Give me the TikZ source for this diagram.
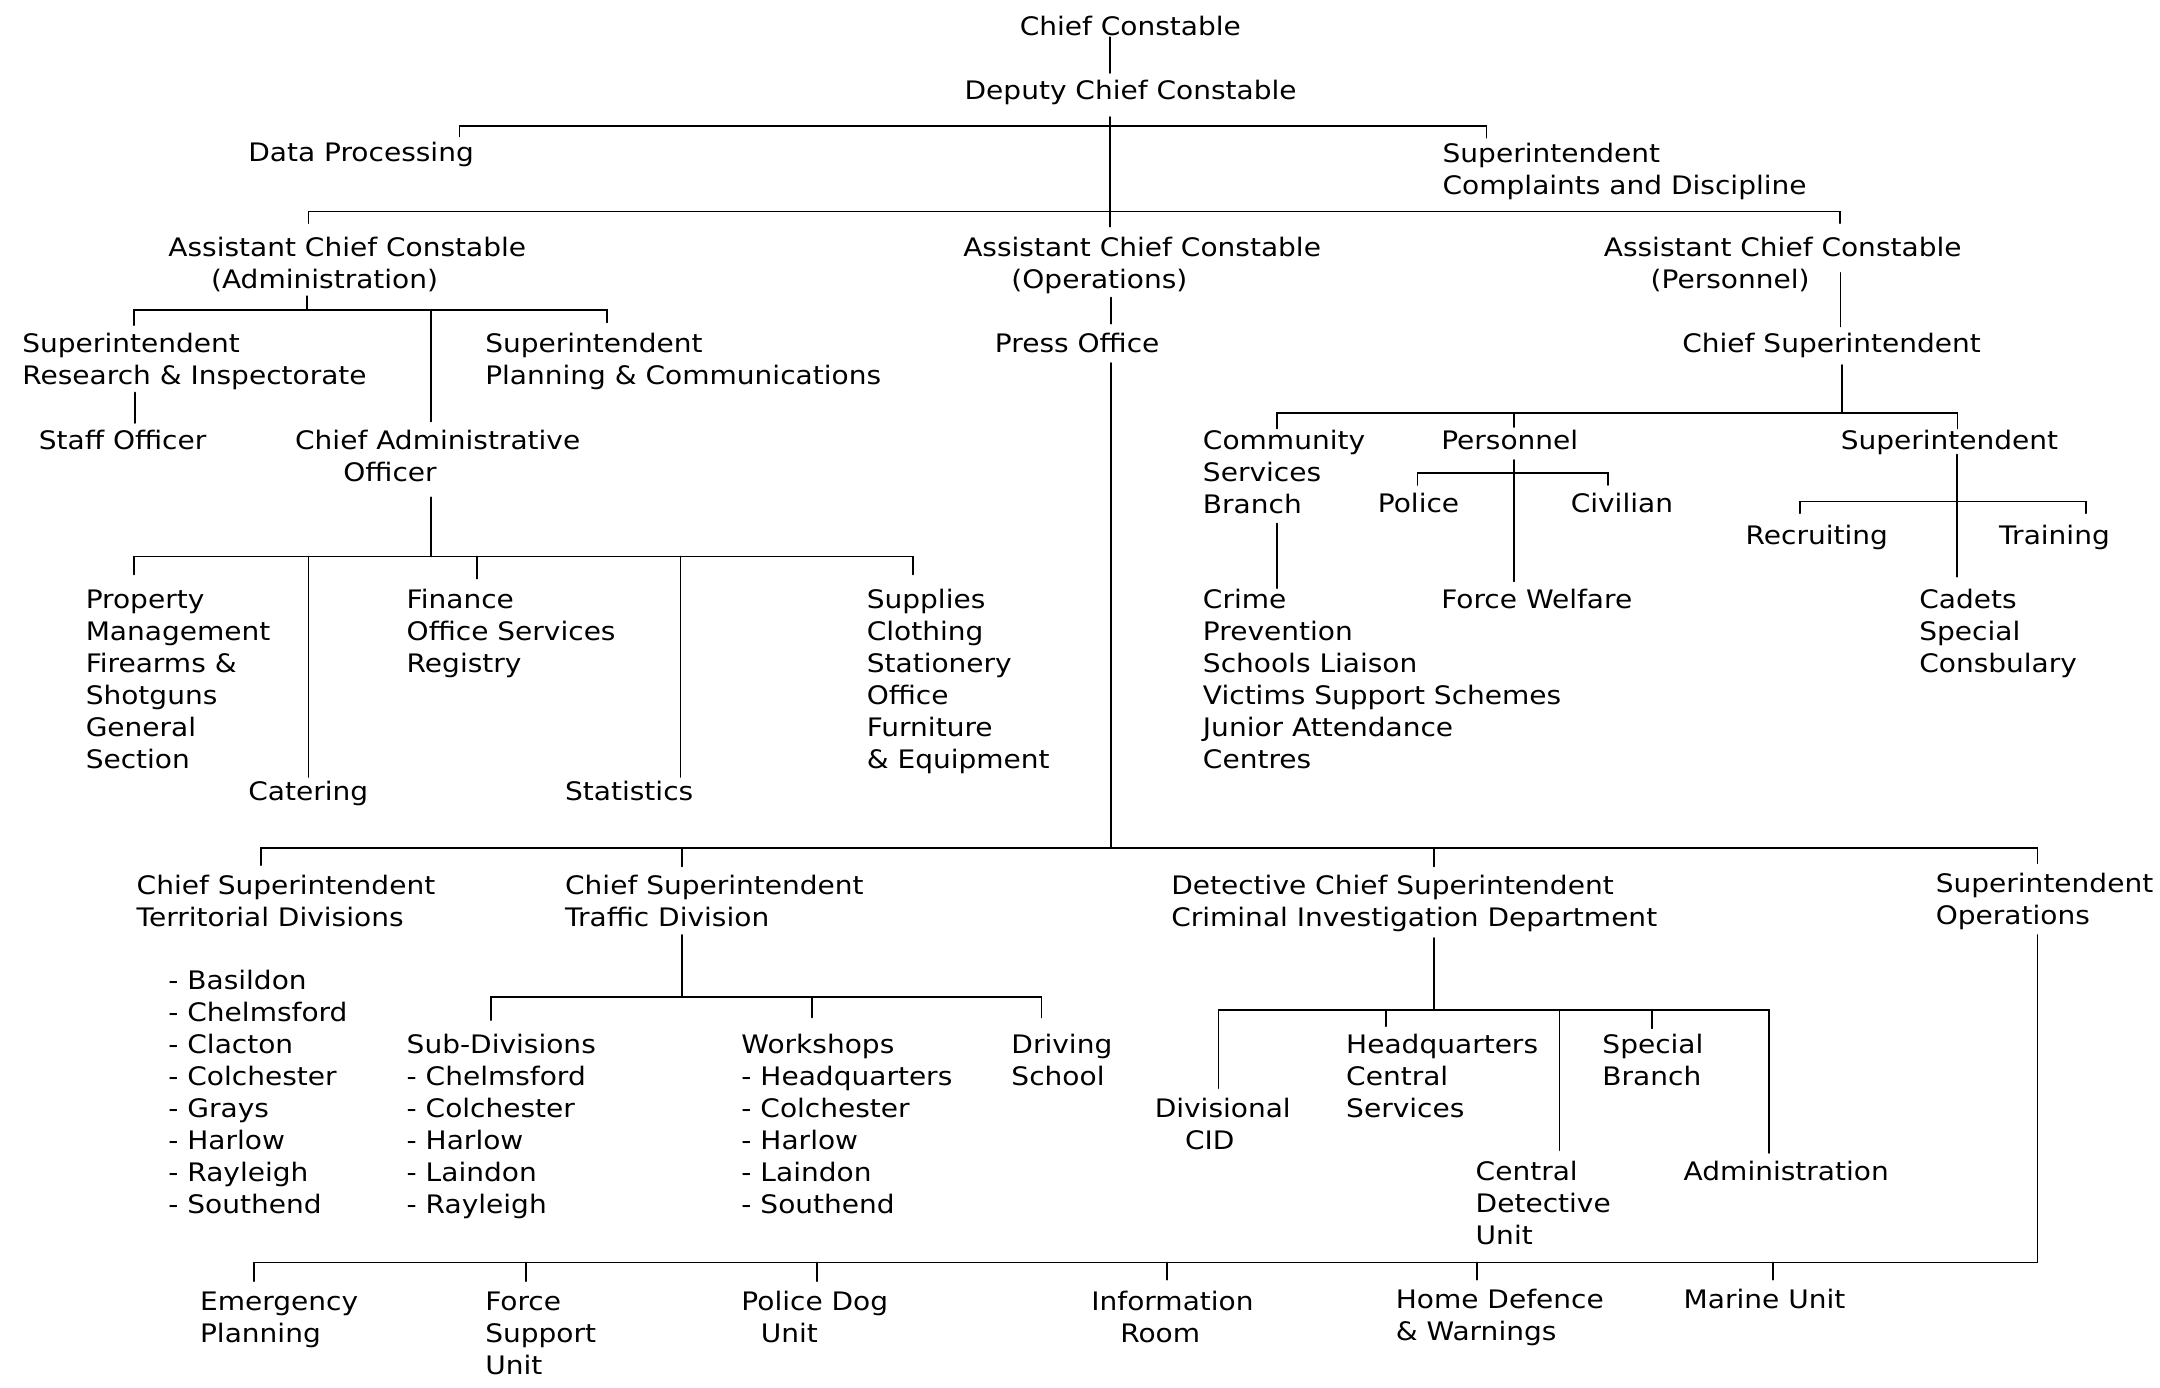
\documentclass[tikz,border=0pt]{standalone}
\usepackage{fontspec}
\newfontfamily\tf{DejaVu Sans}[FakeStretch=1.1]
\newlength\myu
\setlength\myu{0.02755cm}
\def\ls{23.22}
\begin{document}
\begin{tikzpicture}[x=0.02755cm,y=-0.02755cm,
  lbl/.style={anchor=base west,inner sep=0pt,align=left,font=\tf\fontsize{14.5pt}{18.2pt}\selectfont},
  conn/.style={line width=1pt,line cap=round,line join=miter}]
\useasboundingbox[fill=white] (0,0) rectangle (1568,1007);
% ---------- text (y = baseline of the last line) ----------
\node[lbl] (cc) at (740,26) {Chief Constable};
\node[lbl] (dcc) at (700,72) {Deputy Chief Constable};
\node[lbl] (dp) at (180,117) {Data Processing};
\node[lbl] (scd) at (1047,{118+\ls}) {Superintendent\\Complaints and Discipline};
\node[lbl] (acca) at (122,{186+\ls}) {Assistant Chief Constable\\\hspace*{31\myu}(Administration)};
\node[lbl] (acco) at (699,{186+\ls}) {Assistant Chief Constable\\\hspace*{35\myu}(Operations)};
\node[lbl] (accp) at (1164,{186+\ls}) {Assistant Chief Constable\\\hspace*{34\myu}(Personnel)};
\node[lbl] (sri) at (16,{256+\ls}) {Superintendent\\Research \& Inspectorate};
\node[lbl] (spc) at (352,{256+\ls}) {Superintendent\\Planning \& Communications};
\node[lbl] (press) at (722,256) {Press Office};
\node[lbl] (csup) at (1221,256) {Chief Superintendent};
\node[lbl] (staff) at (28,326) {Staff Officer};
\node[lbl] (cao) at (214,{326+\ls}) {Chief Administrative\\\hspace*{35\myu}Officer};
\node[lbl] (csb) at (873,{326+2*\ls}) {Community\\Services\\Branch};
\node[lbl] (pers) at (1046,326) {Personnel};
\node[lbl] (supt) at (1336,326) {Superintendent};
\node[lbl] (police) at (1000,372) {Police};
\node[lbl] (civ) at (1140,372) {Civilian};
\node[lbl] (recr) at (1267,395) {Recruiting};
\node[lbl] (train) at (1451,395) {Training};
\node[lbl] (prop) at (62,{442+5*\ls}) {Property\\Management\\Firearms \&\\Shotguns\\General\\Section};
\node[lbl] (cater) at (180,581) {Catering};
\node[lbl] (fin) at (295,{442+2*\ls}) {Finance\\Office Services\\Registry};
\node[lbl] (stats) at (410,581) {Statistics};
\node[lbl] (supp) at (629,{442+5*\ls}) {Supplies\\Clothing\\Stationery\\Office\\Furniture\\\& Equipment};
\node[lbl] (crime) at (873,{442+5*\ls}) {Crime\\Prevention\\Schools Liaison\\Victims Support Schemes\\Junior Attendance\\Centres};
\node[lbl] (fw) at (1046,442) {Force Welfare};
\node[lbl] (cadets) at (1393,{442+2*\ls}) {Cadets\\Special\\Consbulary};
\node[lbl] (cst) at (99,{649+\ls}) {Chief Superintendent\\Territorial Divisions};
\node[lbl] (ctr) at (410,{649+\ls}) {Chief Superintendent\\Traffic Division};
\node[lbl] (dcs) at (850,{649+\ls}) {Detective Chief Superintendent\\Criminal Investigation Department};
\node[lbl] (sop) at (1405,{648+\ls}) {Superintendent\\Operations};
\node[lbl] (terr) at (122,{718+7*\ls}) {- Basildon\\- Chelmsford\\- Clacton\\- Colchester\\- Grays\\- Harlow\\- Rayleigh\\- Southend};
\node[lbl] (subd) at (295,{765+5*\ls}) {Sub-Divisions\\- Chelmsford\\- Colchester\\- Harlow\\- Laindon\\- Rayleigh};
\node[lbl] (works) at (538,{765+5*\ls}) {Workshops\\- Headquarters\\- Colchester\\- Harlow\\- Laindon\\- Southend};
\node[lbl] (drv) at (734,{765+\ls}) {Driving\\School};
\node[lbl] (divcid) at (838,{811+\ls}) {Divisional\\\hspace*{22\myu}CID};
\node[lbl] (hqcs) at (977,{765+2*\ls}) {Headquarters\\Central\\Services};
\node[lbl] (spb) at (1163,{765+\ls}) {Special\\Branch};
\node[lbl] (cdu) at (1071,{857+2*\ls}) {Central\\Detective\\Unit};
\node[lbl] (adm) at (1222,857) {Administration};
\node[lbl] (emerg) at (145,{951+\ls}) {Emergency\\Planning};
\node[lbl] (fsu) at (352,{951+2*\ls}) {Force\\Support\\Unit};
\node[lbl] (pdu) at (538,{951+\ls}) {Police Dog\\\hspace*{14\myu}Unit};
\node[lbl] (info) at (792,{951+\ls}) {Information\\\hspace*{21\myu}Room};
\node[lbl] (hdw) at (1013,{950+\ls}) {Home Defence\\\& Warnings};
\node[lbl] (marine) at (1222,950) {Marine Unit};
% ---------- connectors ----------
\draw[conn] (805.5,27) -- (805.5,53);
\draw[conn] (333.5,99) -- (333.5,91.5) -- (1079,91.5) -- (1079,100);
\draw[conn] (805.5,85) -- (805.5,164.5);
\draw[conn] (224,162) -- (224,153.6) -- (1335.5,153.6) -- (1335.5,162);
\draw[conn] (223,215) -- (223,225);
\draw[conn] (97,236) -- (97,225) -- (440.5,225) -- (440.5,234);
\draw[conn] (313,225) -- (313,306);
\draw[conn] (98,285) -- (98,307);
\draw[conn] (313,361) -- (313,404);
\draw[conn] (97,417) -- (97,404) -- (663,404) -- (663,417);
\draw[conn] (224,404) -- (224,564);
\draw[conn] (346,404) -- (346,420);
\draw[conn] (494,404) -- (494,564);
\draw[conn] (806.5,216) -- (806.5,235);
\draw[conn] (806.5,263.5) -- (806.5,615.5);
\draw[conn] (1336,198) -- (1336,237);
\draw[conn] (1337,265) -- (1337,300);
\draw[conn] (927,311) -- (927,300) -- (1421,300) -- (1421,311);
\draw[conn] (1099,300) -- (1099,310);
\draw[conn] (1099,334) -- (1099,422);
\draw[conn] (1029,352) -- (1029,343.6) -- (1167,343.6) -- (1167,352);
\draw[conn] (927,380) -- (927,427);
\draw[conn] (1420.5,330) -- (1420.5,418.6);
\draw[conn] (1306.5,372.6) -- (1306.5,364) -- (1514,364) -- (1514,372.6);
\draw[conn] (189.5,628) -- (189.5,615.5) -- (1479,615.5) -- (1479,626.7);
\draw[conn] (495,615.5) -- (495,629);
\draw[conn] (1041,615.5) -- (1041,629);
\draw[conn] (495,678.7) -- (495,724);
\draw[conn] (356.5,740.5) -- (356.5,724) -- (756,724) -- (756,738.6);
\draw[conn] (589.7,724) -- (589.7,738.6);
\draw[conn] (1041,681) -- (1041,733);
\draw[conn] (884.5,790) -- (884.5,733) -- (1284,733) -- (1284,837);
\draw[conn] (1006,733) -- (1006,745);
\draw[conn] (1132,733) -- (1132,835);
\draw[conn] (1199,733) -- (1199,746.5);
\draw[conn] (1479,678.7) -- (1479,916.5) -- (184.3,916.5) -- (184.3,930);
\draw[conn] (382,916.5) -- (382,930);
\draw[conn] (593,916.5) -- (593,930);
\draw[conn] (847,916.5) -- (847,929);
\draw[conn] (1072,916.5) -- (1072,929);
\draw[conn] (1287,916.5) -- (1287,929);
\end{tikzpicture}
\end{document}
